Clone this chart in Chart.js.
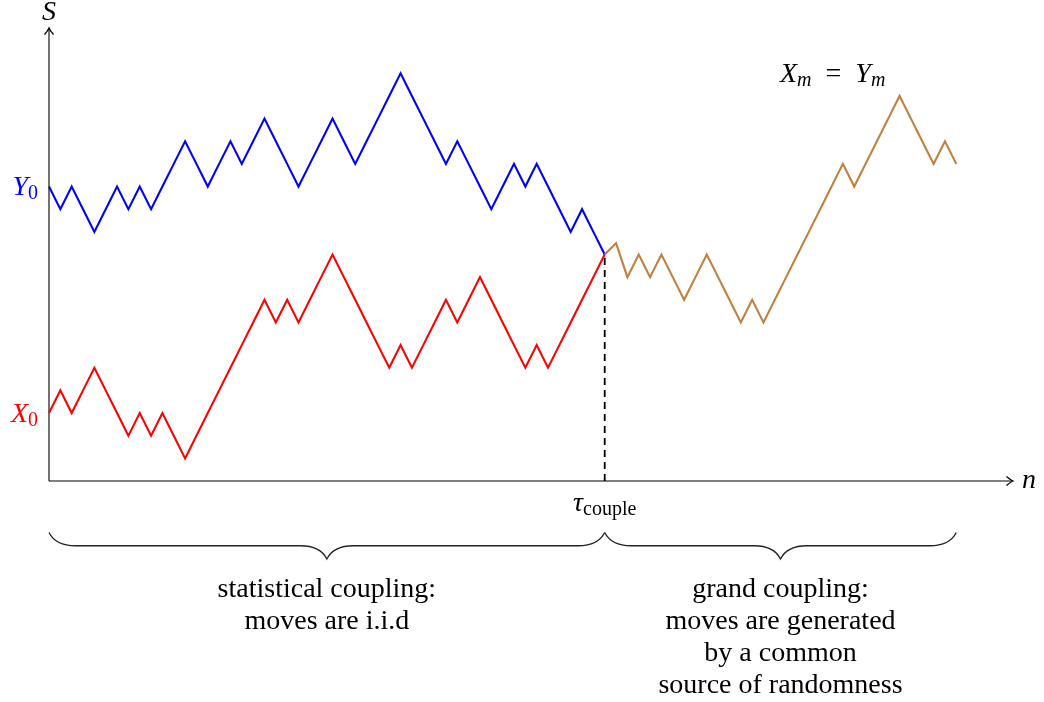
<!DOCTYPE html>
<html>
<head>
<meta charset="utf-8">
<script src="https://cdn.jsdelivr.net/npm/chart.js@4/dist/chart.umd.min.js"></script>
<style>
  html, body { margin: 0; padding: 0; background: #fff; }
  #wrap { width: 1044px; height: 702px; }
</style>
</head>
<body>
<div id="wrap"><canvas id="walks" width="1044" height="702"></canvas></div>
<script>
// step where the two walks meet, and the end of the common walk
var coupleN = 49;
var lastN = 80;

// Y walk (blue), n = 0..49
var blueY = [13, 12, 13, 12, 11, 12, 13, 12, 13, 12, 13, 14, 15, 14, 13, 14, 15, 14, 15, 16,
             15, 14, 13, 14, 15, 16, 15, 14, 15, 16, 17, 18, 17, 16, 15, 14, 15, 14, 13, 12,
             13, 14, 13, 14, 13, 12, 11, 12, 11, 10];

// X walk (red), n = 0..49
var redY = [3, 4, 3, 4, 5, 4, 3, 2, 3, 2, 3, 2, 1, 2, 3, 4, 5, 6, 7, 8,
            7, 8, 7, 8, 9, 10, 9, 8, 7, 6, 5, 6, 5, 6, 7, 8, 7, 8, 9, 8,
            7, 6, 5, 6, 5, 6, 7, 8, 9, 10];

// common walk after coupling (brown), n = 49..80
var brownY = [10, 10.5, 9, 10, 9, 10, 9, 8, 9, 10, 9, 8, 7, 8, 7, 8, 9, 10, 11, 12,
              13, 14, 13, 14, 15, 16, 17, 16, 15, 14, 15, 14];

// axis extents
var xMax = 85;
var yMax = 20;

// braces under the axis and their captions
var braceSpans = [[0, coupleN], [coupleN, lastN]];
var braceText = [
    ["statistical coupling:", "moves are i.i.d"],
    ["grand coupling:", "moves are generated", "by a common", "source of randomness"]
];

var SERIF = '"Liberation Serif", "Times New Roman", serif';
var IT = "italic 28px " + SERIF;
var RM = "28px " + SERIF;
var SUB = "20px " + SERIF;
var SUBIT = "italic 20px " + SERIF;

function toPts(ys, start) {
    return ys.map(function (y, k) { return { x: start + k, y: y }; });
}

// write a row of text pieces (for subscripts)
function runs(ctx, x, y, parts, align) {
    var w = 0;
    parts.forEach(function (p) { ctx.font = p.f; w += ctx.measureText(p.t).width; });
    var cx = x;
    if (align === "center") cx = x - w / 2;
    if (align === "right") cx = x - w;
    parts.forEach(function (p) {
        ctx.font = p.f;
        ctx.fillText(p.t, cx, y + (p.dy || 0));
        cx += ctx.measureText(p.t).width;
    });
}

function arrowHead(ctx, x, y, dir) {
    // dir: "right" or "up"
    ctx.save();
    ctx.translate(x, y);
    if (dir === "up") ctx.rotate(-Math.PI / 2);
    ctx.lineWidth = 1.3;
    ctx.beginPath();
    ctx.moveTo(-6.5, -4.5);
    ctx.quadraticCurveTo(-2.5, -1, 0, 0);
    ctx.quadraticCurveTo(-2.5, 1, -6.5, 4.5);
    ctx.stroke();
    ctx.restore();
}

function brace(ctx, x1, x2, y, a) {
    var m = (x1 + x2) / 2, h = a / 2;
    ctx.beginPath();
    ctx.moveTo(x1, y);
    ctx.bezierCurveTo(x1 + 0.15 * a, y + 0.3 * a, x1 + 0.5 * a, y + h, x1 + a, y + h);
    ctx.lineTo(m - a, y + h);
    ctx.bezierCurveTo(m - 0.5 * a, y + h, m - 0.15 * a, y + 0.7 * a, m, y + a);
    ctx.bezierCurveTo(m + 0.15 * a, y + 0.7 * a, m + 0.5 * a, y + h, m + a, y + h);
    ctx.lineTo(x2 - a, y + h);
    ctx.bezierCurveTo(x2 - 0.5 * a, y + h, x2 - 0.15 * a, y + 0.3 * a, x2, y);
    ctx.stroke();
}

var decor = {
    id: "decor",
    beforeDatasetsDraw: function (chart) {
        var ctx = chart.ctx, xs = chart.scales.x, ys = chart.scales.y;
        var x0 = xs.getPixelForValue(0), y0 = ys.getPixelForValue(0);
        var xe = xs.getPixelForValue(xMax), ye = ys.getPixelForValue(yMax);
        ctx.save();
        ctx.strokeStyle = "#000";
        ctx.lineWidth = 1.1;
        ctx.beginPath();
        ctx.moveTo(x0, y0); ctx.lineTo(xe - 1, y0);
        ctx.moveTo(x0, y0); ctx.lineTo(x0, ye + 1);
        ctx.stroke();
        arrowHead(ctx, xe, y0, "right");
        arrowHead(ctx, x0, ye, "up");
        ctx.restore();
    },
    afterDraw: function (chart) {
        var ctx = chart.ctx, xs = chart.scales.x, ys = chart.scales.y;
        var x0 = xs.getPixelForValue(0), y0 = ys.getPixelForValue(0);
        var xe = xs.getPixelForValue(xMax), ye = ys.getPixelForValue(yMax);
        ctx.save();
        ctx.textBaseline = "alphabetic";

        // axis names
        ctx.fillStyle = "#000";
        runs(ctx, x0, ye - 8, [{ t: "S", f: IT }], "center");
        runs(ctx, xe + 9, y0 + 6.5, [{ t: "n", f: IT }], "left");

        // starting points
        ctx.fillStyle = "#0000ff";
        runs(ctx, x0 - 11, ys.getPixelForValue(blueY[0]) + 8.5,
             [{ t: "Y", f: IT }, { t: "0", f: SUB, dy: 4 }], "right");
        ctx.fillStyle = "#ff0000";
        runs(ctx, x0 - 11, ys.getPixelForValue(redY[0]) + 8.5,
             [{ t: "X", f: IT }, { t: "0", f: SUB, dy: 4 }], "right");

        // coupling time
        ctx.fillStyle = "#000";
        runs(ctx, xs.getPixelForValue(coupleN), y0 + 29.5,
             [{ t: "\u03C4", f: IT }, { t: "couple", f: SUB, dy: 4 }], "center");

        // X_m = Y_m
        runs(ctx, xs.getPixelForValue(69.1), ys.getPixelForValue(17.6),
             [{ t: "X", f: IT }, { t: "m", f: SUBIT, dy: 4 }, { t: "\u2002=\u2002", f: RM },
              { t: "Y", f: IT }, { t: "m", f: SUBIT, dy: 4 }], "center");

        // braces and captions
        ctx.strokeStyle = "#222";
        ctx.lineWidth = 1.3;
        ctx.font = "28px " + SERIF;
        ctx.textAlign = "center";
        braceSpans.forEach(function (s, k) {
            var a = xs.getPixelForValue(s[0]), b = xs.getPixelForValue(s[1]);
            brace(ctx, a, b, y0 + 51.5, 26.5);
            braceText[k].forEach(function (line, j) {
                ctx.fillText(line, (a + b) / 2, y0 + 115.5 + 32 * j);
            });
        });
        ctx.restore();
    }
};

var lineBase = {
    fill: false,
    pointRadius: 0,
    tension: 0,
    borderWidth: 2.1,
    borderJoinStyle: "miter",
    clip: false
};

new Chart(document.getElementById("walks").getContext("2d"), {
    type: "line",
    data: {
        datasets: [
            Object.assign({}, lineBase, {
                label: "tau",
                data: [{ x: coupleN, y: 0 }, { x: coupleN, y: redY[coupleN] }],
                borderColor: "#000",
                borderWidth: 1.8,
                borderDash: [7, 5],
                order: 4
            }),
            Object.assign({}, lineBase, {
                label: "X",
                data: toPts(redY, 0),
                borderColor: "#ff0000",
                order: 3
            }),
            Object.assign({}, lineBase, {
                label: "Y",
                data: toPts(blueY, 0),
                borderColor: "#0000ff",
                order: 2
            }),
            Object.assign({}, lineBase, {
                label: "X=Y",
                data: toPts(brownY, coupleN),
                borderColor: "#bf8040",
                order: 1
            })
        ]
    },
    options: {
        responsive: false,
        animation: false,
        devicePixelRatio: 1,
        layout: { padding: { left: 49, right: 31, top: 28, bottom: 221 } },
        plugins: {
            legend: { display: false },
            tooltip: { enabled: false }
        },
        scales: {
            x: { type: "linear", min: 0, max: xMax, display: false },
            y: { type: "linear", min: 0, max: yMax, display: false }
        }
    },
    plugins: [decor]
});
</script>
</body>
</html>
